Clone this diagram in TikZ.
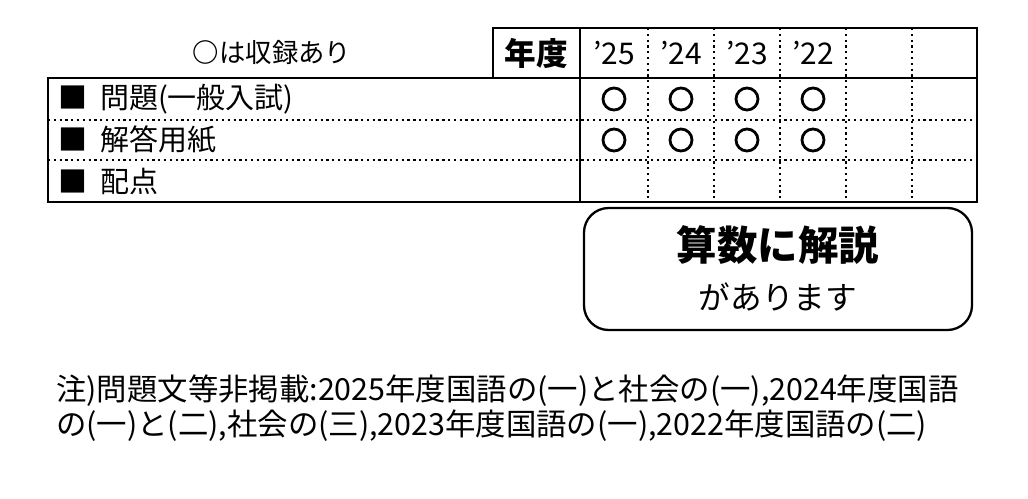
\documentclass[tikz,border=0pt]{standalone}
\usepackage{fontspec}
\setmainfont{Noto Sans CJK JP}
\usetikzlibrary{positioning}

\tikzset{
  thickline/.style={line width=1.6pt},
  dotline/.style={line width=1.3pt, dotted},
  mark circle/.style={draw, line width=1.6pt, circle, minimum size=22*0.02cm, inner sep=0pt},
  yeartext/.style={font=\fontsize{17}{17}\selectfont},
  rowtext/.style={anchor=west, font=\fontsize{16.5}{16.5}\selectfont},
  notetext/.style={anchor=west, font=\fontsize{17.3}{17.3}\selectfont},
}

\begin{document}
\begin{tikzpicture}[x=0.02cm, y=-0.02cm]
\useasboundingbox (0,0) rectangle (1028,498);

% header
\node[font=\fontsize{15}{15}\selectfont] (legend) at (272,52) {\textbf{○}は収録あり};
\draw[thickline] (493,28) rectangle (580,78);
\node[font=\fontsize{18}{18}\selectfont\bfseries] (nendo) at (536,53) {年度};
\draw[thickline] (580,28) rectangle (977,78);
\foreach \x/\y in {614/'25, 681/'24, 747/'23, 813/'22}
  \node[yeartext] (y\x) at (\x,53) {\y};

% table body
\draw[thickline] (48,78) rectangle (977,202);
\draw[thickline] (580,28) -- (580,202);
\draw[dotline] (48,120) -- (977,120);
\draw[dotline] (48,160) -- (977,160);
\foreach \x in {648,714,780,846,912}
  \draw[dotline] (\x,28) -- (\x,202);

\node[rowtext] (r1) at (52,99) {■\ \ 問題(一般入試)};
\node[rowtext] (r2) at (52,140) {■\ \ 解答用紙};
\node[rowtext] (r3) at (52,181) {■\ \ 配点};

\foreach \x in {614,681,747,813} {
  \node[mark circle] (a\x) at (\x,99) {};
  \node[mark circle] (b\x) at (\x,140) {};
}

% note box
\draw[line width=1.3pt, rounded corners=14pt] (584,208) rectangle (972,330);
\node[font=\fontsize{23}{23}\selectfont\bfseries] (sansu) at (778,245) {算数に解説};
\node[font=\fontsize{18}{18}\selectfont] (ari) at (778,297) {があります};

% footnote
\node[notetext] (note1) at (50,391)
  {注)問題文等非掲載:2025年度国語の(一)と社会の(一),2024年度国語};
\node[notetext] (note2) at (50,426)
  {の(一)と(二),社会の(三),2023年度国語の(一),2022年度国語の(二)};
\end{tikzpicture}
\end{document}
